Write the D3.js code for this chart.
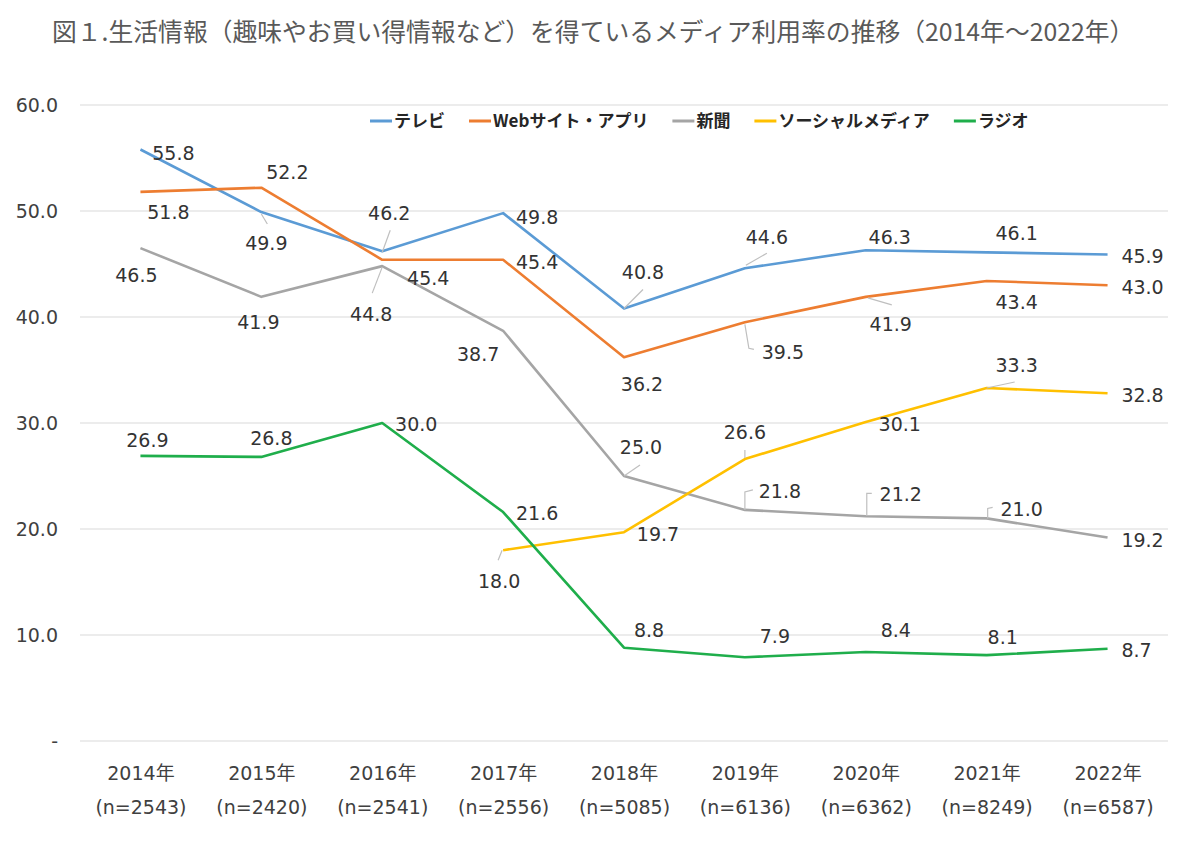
<!DOCTYPE html>
<html>
<head>
<meta charset="utf-8">
<script src="https://cdn.jsdelivr.net/npm/d3@7"></script>
<style>
  body { margin: 0; background: #fff; }
  svg text { font-family: "DejaVu Sans", "Noto Sans CJK JP", sans-serif; }
</style>
</head>
<body>
<svg id="chart" width="1200" height="860"></svg>
<script>
// data
const years = ["2014年", "2015年", "2016年", "2017年", "2018年", "2019年", "2020年", "2021年", "2022年"]
const sampleSizes = ["(n=2543)", "(n=2420)", "(n=2541)", "(n=2556)", "(n=5085)", "(n=6136)", "(n=6362)", "(n=8249)", "(n=6587)"]
const seriesNames = ["テレビ", "Webサイト・アプリ", "新聞", "ソーシャルメディア", "ラジオ"]
const tv = [55.8, 49.9, 46.2, 49.8, 40.8, 44.6, 46.3, 46.1, 45.9]
const web = [51.8, 52.2, 45.4, 45.4, 36.2, 39.5, 41.9, 43.4, 43.0]
const newspaper = [46.5, 41.9, 44.8, 38.7, 25.0, 21.8, 21.2, 21.0, 19.2]
const social = [null, null, null, 18.0, 19.7, 26.6, 30.1, 33.3, 32.8]
const radio = [26.9, 26.8, 30.0, 21.6, 8.8, 7.9, 8.4, 8.1, 8.7]
const yTicks = [0, 10, 20, 30, 40, 50, 60]

const colors = ["#5B9BD5", "#ED7D31", "#A5A5A5", "#FFC000", "#1FAE4B"]

// label placement (dx, dy from the point to the text centre), as in the original
const labelOffsets = [
    [[33, 3], [5, 31], [7, -38], [34, 4], [19, -37], [22, -31], [24, -13], [30, -19], [35, 2]],
    [[28, 20], [26, -16], [46, 18], [34, 2], [18, 27], [38, 30], [25, 27], [30, 21], [35, 2]],
    [[-4, 27], [-3, 25], [-11, 48], [-25, 23], [17, -29], [35, -19], [35, -22], [35, -9], [35, 3]],
    [null, null, null, [-4, 31], [34, 2], [0, -27], [34, 2], [30, -23], [35, 2]],
    [[7, -16], [10, -19], [34, 1], [34, 1], [25, -18], [30, -21], [30, -22], [16, -18], [29, 1]]
]
// leader lines, relative to the point
const leaders = [
    [[1, [[0, 2], [6, 12]]], [2, [[0, 1], [8, -21]]], [4, [[0, 0], [19, -19]]], [5, [[1, -3], [22, -15]]]],
    [[5, [[0, 2], [4, 26], [9, 27]]], [6, [[2, 1], [26, 8]]]],
    [[2, [[0, 1], [-10, 27]]], [4, [[0, 0], [16, -11]]], [5, [[0, 0], [0, -18], [8, -20]]],
     [6, [[1, -1], [1, -23], [6, -23]]], [7, [[1, 0], [1, -10], [6, -11]]]],
    [[3, [[-1, 0], [-5, 10]]], [5, [[0, -1], [0, -9]]], [7, [[0, 0], [28, -6]]]],
    []
]

const seriesValues = [tv, web, newspaper, social, radio]

const svg = d3.select("#chart")

const x = d3.scalePoint()
    .domain(years)
    .range([80, 1168])
    .padding(0.5)

const y = d3.scaleLinear()
    .domain([0, 60])
    .range([741, 105])

// title
svg.append("text")
    .attr("x", 52)
    .attr("y", 41)
    .style("font-family", "'Noto Sans CJK JP', sans-serif")
    .style("font-size", "24.8px")
    .style("fill", "#595959")
    .text("図１.生活情報（趣味やお買い得情報など）を得ているメディア利用率の推移（2014年～2022年）")

// grid
svg.append("g")
    .selectAll("line")
    .data(yTicks)
    .enter()
    .append("line")
    .attr("x1", 80)
    .attr("x2", 1168)
    .attr("y1", d => y(d))
    .attr("y2", d => y(d))
    .style("stroke", "#D9D9D9")
    .style("stroke-width", 1.2)

// y axis labels
const yAxis = d3.axisLeft(y)
    .tickValues(yTicks)
    .tickSize(0)
    .tickPadding(0)
    .tickFormat(d => d === 0 ? "-" : d.toFixed(1))

const gy = svg.append("g")
    .attr("transform", "translate(58,0)")
    .call(yAxis)
gy.select(".domain").remove()
gy.selectAll("text")
    .style("font-size", "19px")
    .style("fill", "#404040")
    .style("font-family", "'DejaVu Sans', sans-serif")

// x axis labels
const xAxis = d3.axisBottom(x).tickSize(0).tickPadding(0)
const gx = svg.append("g")
    .attr("transform", "translate(0,741)")
    .call(xAxis)
gx.select(".domain").remove()
gx.selectAll("text")
    .attr("y", 39)
    .attr("dy", null)
    .style("font-size", "19px")
    .style("fill", "#404040")
gx.selectAll(".tick")
    .append("text")
    .attr("y", 73)
    .attr("text-anchor", "middle")
    .style("font-size", "19px")
    .style("fill", "#404040")
    .text((d, i) => sampleSizes[i])

// lines
const line = d3.line()
    .defined(d => d != null)
    .x((d, i) => x(years[i]))
    .y(d => y(d))

svg.append("g")
    .selectAll("path")
    .data(seriesValues)
    .enter()
    .append("path")
    .attr("d", d => line(d))
    .style("fill", "none")
    .style("stroke", (d, i) => colors[i])
    .style("stroke-width", 2.6)
    .style("stroke-linejoin", "round")

// leader lines
const leaderG = svg.append("g")
leaders.forEach((list, s) => {
    list.forEach(([i, pts]) => {
        const px = x(years[i]), py = y(seriesValues[s][i])
        leaderG.append("polyline")
            .attr("points", pts.map(p => (px + p[0]) + "," + (py + p[1])).join(" "))
            .style("fill", "none")
            .style("stroke", "#BFBFBF")
            .style("stroke-width", 1.2)
    })
})

// data labels
const labelG = svg.append("g")
seriesValues.forEach((vals, s) => {
    vals.forEach((v, i) => {
        if (v == null) return
        const off = labelOffsets[s][i]
        labelG.append("text")
            .attr("x", x(years[i]) + off[0])
            .attr("y", y(v) + off[1] + 7)
            .attr("text-anchor", "middle")
            .style("font-size", "19px")
            .style("fill", "#333333")
            .text(v.toFixed(1))
    })
})

// legend
const legend = svg.append("g").attr("transform", "translate(0,121)")
let lx = 370
seriesNames.forEach((name, i) => {
    legend.append("line")
        .attr("x1", lx)
        .attr("x2", lx + 22)
        .attr("y1", 0)
        .attr("y2", 0)
        .style("stroke", colors[i])
        .style("stroke-width", 3)
    const t = legend.append("text")
        .attr("x", lx + 24)
        .attr("y", 6)
        .style("font-family", "'Noto Sans CJK JP', sans-serif")
        .style("font-weight", "bold")
        .style("font-size", "17px")
        .style("fill", "#262626")
        .text(name)
    lx += 24 + t.node().getComputedTextLength() + 24
})
</script>
</body>
</html>
